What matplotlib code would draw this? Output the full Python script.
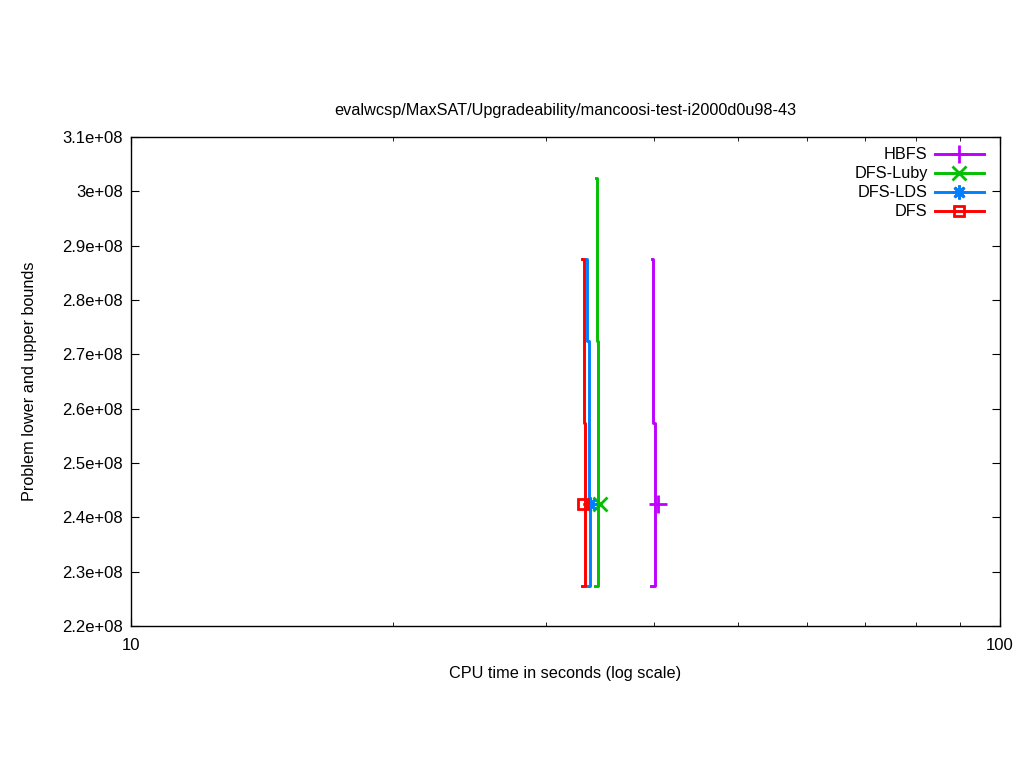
import numpy as np
import matplotlib
matplotlib.use("Agg")
import matplotlib.pyplot as plt
from matplotlib.ticker import FixedLocator, FuncFormatter, NullFormatter

plt.rcParams['font.family'] = ['Liberation Sans', 'DejaVu Sans']

# bounds over CPU time (seconds): upper bound falls, lower bound rises
names = ["HBFS", "DFS-Luby", "DFS-LDS", "DFS"]
colors = ["#c000ff", "#00c000", "#0080ff", "#ff0000"]
markers = ["+", "x", (8, 2, 0), "s"]

ub_t = [[39.8, 39.9, 40.1], [34.3, 34.37, 34.46], [33.4, 33.52, 33.65], [33.02, 33.2, 33.3]]
ub_v = [[2.8755e8, 2.5736e8, 2.4245e8], [3.0245e8, 2.7245e8, 2.4245e8],
        [2.8755e8, 2.7245e8, 2.4245e8], [2.8755e8, 2.5736e8, 2.4245e8]]
lb_t = [[39.7, 40.1], [34.2, 34.46], [33.5, 33.7], [33.0, 33.3]]
lb_v = [[2.2736e8, 2.4245e8], [2.2736e8, 2.4245e8], [2.2736e8, 2.4245e8], [2.2736e8, 2.4245e8]]
opt_t = [40.4, 34.65, 33.74, 33.13]
opt_v = [2.4245e8, 2.4245e8, 2.4245e8, 2.4245e8]
msize = [13, 10, 10, 7]

fig = plt.figure(figsize=(10.24, 7.68), dpi=100)
ax = fig.add_axes([131/1024, 1-626/768, 869/1024, 489/768])

for i in range(4):
    c = colors[i]
    ax.plot(ub_t[i], ub_v[i], drawstyle='steps-post', color=c, lw=2.1)
    ax.plot(lb_t[i], lb_v[i], drawstyle='steps-post', color=c, lw=2.1)
    ax.plot(opt_t[i], opt_v[i], linestyle='none', marker=markers[i], color=c,
            markersize=msize[i], mew=2, mfc='none')
    ax.plot([], [], color=c, lw=2.1, marker=markers[i], markersize=msize[i], mew=2,
            mfc='none', label=names[i])

ax.set_xscale('log')
ax.set_xlim(10, 100)
ax.set_ylim(2.2e8, 3.1e8)
ax.xaxis.set_major_locator(FixedLocator([10, 100]))
ax.xaxis.set_major_formatter(FuncFormatter(lambda v, p: "%d" % v))
ax.xaxis.set_minor_locator(FixedLocator(np.arange(20, 100, 10)))
ax.xaxis.set_minor_formatter(NullFormatter())
ax.yaxis.set_major_locator(FixedLocator(np.arange(2.2e8, 3.11e8, 1e7)))
ax.yaxis.set_major_formatter(FuncFormatter(lambda v, p: "%g" % v))
ax.tick_params(which='major', direction='in', length=6, top=True, right=True, labelsize=12)
ax.tick_params(which='minor', direction='in', length=3, top=True, right=True)
ax.tick_params(axis='x', pad=9)
ax.tick_params(axis='y', pad=6)
for s in ax.spines.values():
    s.set_linewidth(1)

ax.set_title("evalwcsp/MaxSAT/Upgradeability/mancoosi-test-i2000d0u98-43", fontsize=11.7, pad=16)
ax.set_xlabel("CPU time in seconds (log scale)", fontsize=11.7, labelpad=9)
ax.set_ylabel("Problem lower and upper bounds", fontsize=11.7, labelpad=18)

ax.legend(loc='upper right', bbox_to_anchor=(1, 1 + 6/489), frameon=False,
          markerfirst=False, fontsize=11.7, handlelength=3.0, labelspacing=0.25,
          borderaxespad=0.6, handletextpad=0.45)

fig.savefig("out.png", dpi=100)
